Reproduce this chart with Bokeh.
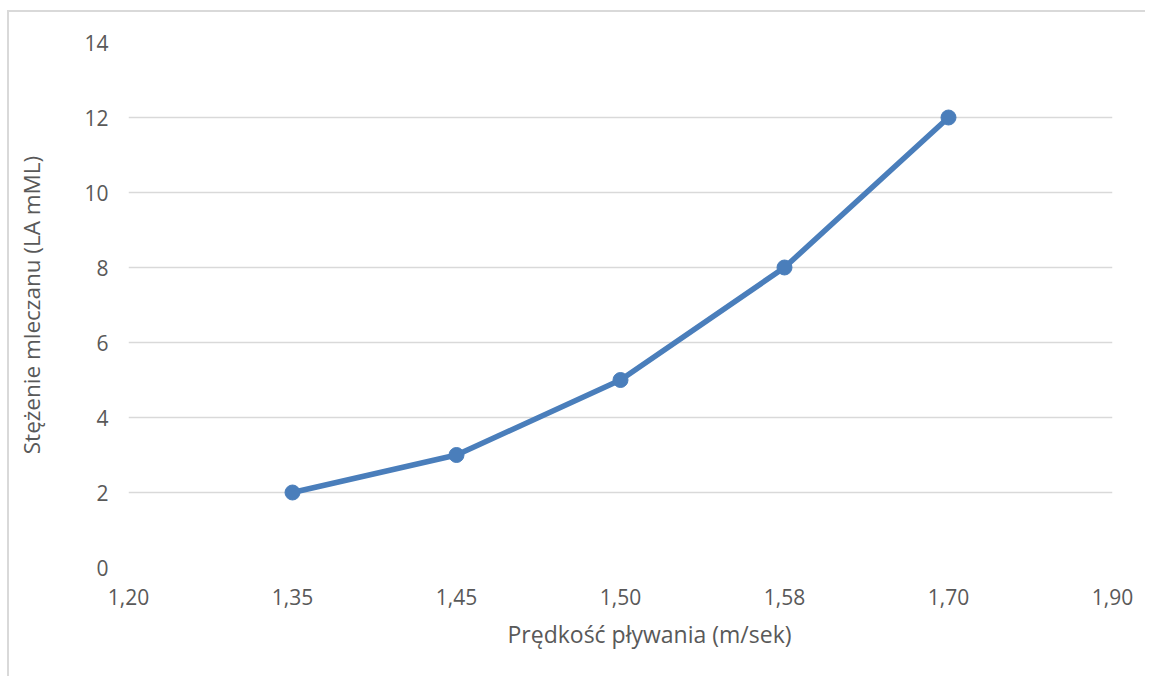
from bokeh.plotting import figure
from bokeh.models import Range1d, FixedTicker, Title
from bokeh.embed import file_html
from bokeh.resources import INLINE

categories = ["1,20", "1,35", "1,45", "1,50", "1,58", "1,70", "1,90"]
data_cats = ["1,35", "1,45", "1,50", "1,58", "1,70"]
lactate = [2, 3, 5, 8, 12]
y_ticks = [0, 2, 4, 6, 8, 10, 12, 14]

FONT = "Open Sans"
TXT = "#595959"
BLUE = "#4a7ebb"

xs = [categories.index(c) for c in data_cats]

p = figure(width=1138, height=666, output_backend="svg", toolbar_location=None,
           x_range=Range1d(0, len(categories) - 1), y_range=Range1d(0, 14),
           min_border_left=119, min_border_right=35, min_border_top=30, min_border_bottom=111)
p.margin = (10, 0, 0, 7)
p.styles = {"border-top": "2px solid #d9d9d9", "border-left": "2px solid #d9d9d9"}
p.outline_line_color = None
p.background_fill_color = "white"
p.border_fill_color = "white"

p.line(xs, lactate, line_color=BLUE, line_width=5.5)
p.scatter(xs, lactate, size=15, fill_color=BLUE, line_color=BLUE)

p.xaxis.ticker = FixedTicker(ticks=list(range(len(categories))))
p.xaxis.major_label_overrides = {i: c for i, c in enumerate(categories)}
p.yaxis.ticker = FixedTicker(ticks=y_ticks)

for ax in (p.xaxis[0], p.yaxis[0]):
    ax.axis_line_color = None
    ax.major_tick_line_color = None
    ax.minor_tick_line_color = None
    ax.major_tick_out = 0
    ax.major_tick_in = 0
    ax.major_label_text_font = FONT
    ax.major_label_text_font_size = "21px"
    ax.major_label_text_color = TXT

p.xaxis.major_label_standoff = 21
p.yaxis.major_label_standoff = 20

p.yaxis.axis_label = "Stężenie mleczanu (LA mML)"
p.yaxis.axis_label_text_font = FONT
p.yaxis.axis_label_text_font_size = "22.5px"
p.yaxis.axis_label_text_font_style = "normal"
p.yaxis.axis_label_text_color = TXT
p.yaxis.axis_label_standoff = 34

p.xgrid.grid_line_color = None
p.ygrid.grid_line_color = "#d9d9d9"
p.ygrid.grid_line_width = 1.5

xt = Title(text="Prędkość pływania (m/sek)", align="left", offset=379,
           text_font=FONT, text_font_size="23px", text_font_style="normal",
           text_color=TXT, standoff=16)
p.add_layout(xt, "below")

open("out.html", "w").write(file_html(p, INLINE))
